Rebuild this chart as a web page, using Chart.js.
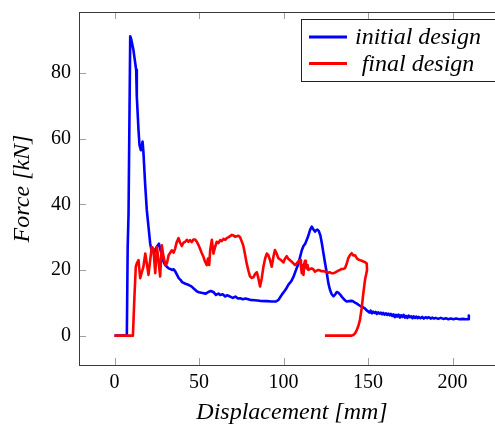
<!DOCTYPE html>
<html><head><meta charset="utf-8">
<script src="https://cdn.jsdelivr.net/npm/chart.js@4/dist/chart.umd.min.js"></script>
<style>
html,body{margin:0;padding:0;overflow:hidden;background:#fff;width:495px;height:427px}
#wrap{position:absolute;left:0;top:0;width:510px;height:427px}
</style>
</head><body>
<div id="wrap"><canvas id="c" width="510" height="427"></canvas></div>
<script>
const seriesNames = ['initial design', 'final design'];
const xTicks = [0, 50, 100, 150, 200];
const yTicks = [0, 20, 40, 60, 80];
const xTitle = 'Displacement [mm]';
const yTitle = 'Force [kN]';

const initialX = [0,7.3,7.8,8.3,9.3,9.8,11.2,12.8,13.2,14.2,14.8,15.6,16.6,17.1,18.1,19.1,20.1,21.1,22.1,23.1,24,25,26.3,27,28,29,30,31,32,33,34,35,36,37,38,39,40,42,44,45.5,47,48.7,50,52,54,55.5,57,58.7,60,61.5,62.5,64,65.5,66.5,68.4,70,71.5,73,74.3,76,77.5,80.2,83,86,90,93,95.5,97,97.9,99,100.5,101.9,103,104.5,105.8,107,108.5,109.8,110.8,111.8,112.8,113.7,114.7,115.7,116.7,117.5,118.6,119.3,120,120.8,121.8,122.7,123.6,124.6,125.6,126.5,127.5,128.5,129.5,130.5,131.5,132.4,133.5,134.5,135.4,136.5,137.3,138.5,140.3,141.3,142.5,143.3,144.3,145.2,146.5,147.5,148.5,149.2,150,
150.8,151.5,152.2,153,153.7,154.5,155.2,156,156.8,157.5,158.3,159,159.8,160.5,161.3,162,162.8,163.5,164.3,165,165.8,166.5,167.3,168,168.8,169.5,170.3,171,171.8,172.5,173.3,174,174.8,175.5,176.3,177,177.8,178.5,179.3,180,181,182,183,184,185,186,187,188,189,190,191.5,193,194.5,196,197.5,199,200.5,202,204,206,208,209.3,209.5,209.7,210];
const initialY = [0,0,27,37,91.2,90.5,87,81,72.8,62.6,58,56.5,59.1,56,46.4,38.3,33.2,28.1,25.5,26.3,25.6,27.1,28,26.5,24.5,22.5,21.5,21,20.5,20.3,20,20.2,19.5,18.5,17.5,17,16.3,15.8,15.4,15,14.3,13.5,13.2,13,12.8,13.3,13.6,13.2,12.4,12.8,12.4,12.6,11.9,12.3,11.9,11.5,11.9,11.3,11.4,11.1,11.3,10.9,10.8,10.6,10.5,10.4,10.4,10.9,11.6,12.5,13.5,14.6,15.6,16.5,17.8,19.5,21.5,24,26,27.3,28,29.1,30.5,32.2,33.2,32.5,31.7,32.1,32.3,31.9,30.5,28,25.1,22,19,16,13.9,12.6,12,12.5,13.3,13.1,12.5,11.8,11.3,10.7,10.4,10.5,10.6,10.4,10,9.8,9.4,9.1,8.7,8.5,8.1,7.7,7.4,
7.0,7.6,6.8,7.3,6.9,7.2,6.6,7.1,6.7,7.0,6.5,6.9,6.4,6.8,6.3,6.7,6.2,6.6,6.0,6.5,5.6,6.3,5.8,6.4,5.5,6.2,5.7,6.3,5.5,6.0,5.4,6.1,5.6,5.9,5.3,5.9,5.4,5.8,5.3,5.7,5.3,5.7,5.2,5.6,5.3,5.6,5.2,5.5,5.2,5.4,5.1,5.4,5.1,5.3,5.0,5.2,5.0,5.2,5.0,5.1,5.0,5.0,6.1,5.1,5.0];

const finalX = [0,10.9,11.8,12.6,13.2,14.2,15.2,16,17.1,18.2,19.1,20.1,21.1,22.1,23,24.1,25.1,26,27,28,29,30.2,31,32,33.9,35,35.9,36.8,37.9,38.8,39.8,40.8,41.8,42.8,43.7,44.7,45.7,46.7,47.7,48.7,49.7,50.6,51.6,52.6,53.6,54.6,55.3,56,56.6,57.6,58.5,59.5,60.5,61.5,62.5,63.5,64.5,65.5,66.4,67.5,68.4,69.4,70.4,71.3,72.3,73.3,74.3,75.2,76.2,77.2,78.2,79.2,80.2,81.2,82.2,83.2,84.2,85.1,86.1,87.1,88.1,89.1,90.1,91,92,93,94,94.9,95.9,96.9,98,99,99.9,100.9,101.9,102.8,103.8,104.8,105.8,106.8,107.8,108.8,109.8,110.3,110.8,111.3,111.8,112.3,112.7,113.2,113.7,114.2,114.7,115.7,116.7,117.6,118.6,119.6,120.5,121.5,122.5,123.5,124.5,125.5,126.5,127.5,128.5,129.4,130.4,131.4,132.4,133.4,134.4,135.4,136.4,137.3,138.3,139.3,140.3,141.3,142.3,143.3,144.2,145.2,146.2,147.2,148.2,149.2,149.4,148.2,147.2,146.2,145.2,144.3,143.3,142.3,141.3,140.3,124.5];
const finalY = [0,0,12,21,22,23,17.5,19,21,25,22,18.5,23,27,26.5,19,27,23,18,27.5,24,21.5,22,24.5,26,25.3,26.6,28.5,29.7,28.3,27.3,28.3,28.6,29.2,28.6,29.1,28.5,29.3,29.3,28.6,27.6,26.5,25.2,24,22.5,21.5,23.5,21.5,26,29.2,25,27,28.6,28.2,29.1,28.8,29.5,29.2,29.7,30,30.3,30.7,30.5,30.1,30.3,30.4,30,28.8,27.4,24.8,22,19.8,18,17.6,17.8,18.8,19.3,17.5,15,17.5,21,23.5,25,24.5,23,21,24,26.1,25,23.6,23.2,22.8,22.3,23.5,24.2,23.4,23,22.5,22,21.5,22,22.6,23,21,19,21.5,18.5,22,22.8,21,20.5,21.5,20,20.3,20.5,20.2,19.5,19.8,20,19.9,19.6,19.7,19.5,19.4,19.2,19.3,19,19,19.2,19.5,19.8,20,20.3,20.3,20.6,21.8,23.6,24.5,25.1,24.4,24.5,23.6,23.2,23,22.8,22.6,22.4,22,20,17,12.9,8.3,4.8,3,1.7,0.7,0.2,0,0];

const xRange = [-21, 231];
const yRange = [-8.95, 98.6];

const zip = (xs, ys) => xs.map((x, i) => ({x: x, y: ys[i]}));
const serif = "'Liberation Serif', 'Times New Roman', serif";
const colors = ['#0000ff', '#ff0000'];

const framePlugin = {
  id: 'frame',
  beforeDatasetsDraw(chart) {
    const {ctx, chartArea: a, scales} = chart;
    ctx.save();
    ctx.strokeStyle = '#a0a0a0';
    ctx.lineWidth = 1;
    const tl = 7;
    scales.x.ticks.forEach(t => {
      const px = Math.round(scales.x.getPixelForValue(t.value)) + 0.5;
      ctx.beginPath();
      ctx.moveTo(px, a.bottom); ctx.lineTo(px, a.bottom - tl);
      ctx.moveTo(px, a.top); ctx.lineTo(px, a.top + tl);
      ctx.stroke();
    });
    scales.y.ticks.forEach(t => {
      const py = Math.round(scales.y.getPixelForValue(t.value)) + 0.5;
      ctx.beginPath();
      ctx.moveTo(a.left, py); ctx.lineTo(a.left + tl, py);
      ctx.moveTo(a.right, py); ctx.lineTo(a.right - tl, py);
      ctx.stroke();
    });
    ctx.strokeStyle = '#3a3a3a';
    ctx.lineWidth = 1;
    ctx.strokeRect(Math.round(a.left) + 0.5, Math.round(a.top) + 0.5, Math.round(a.right - a.left), Math.round(a.bottom - a.top));
    ctx.restore();
  },
  afterDatasetsDraw(chart) {
    const {ctx} = chart;
    ctx.save();
    const bx = 301.5, by = 19.5, bw = 196, bh = 62;
    ctx.fillStyle = '#fff';
    ctx.fillRect(bx, by, bw, bh);
    ctx.strokeStyle = '#222';
    ctx.lineWidth = 1;
    ctx.strokeRect(bx, by, bw, bh);
    const rows = [37, 63.5];
    chart.data.datasets.forEach((ds, i) => {
      ctx.strokeStyle = ds.borderColor;
      ctx.lineWidth = 3;
      ctx.beginPath();
      ctx.moveTo(309, rows[i]); ctx.lineTo(347, rows[i]);
      ctx.stroke();
      ctx.fillStyle = '#000';
      ctx.font = "italic 24px " + serif;
      ctx.textAlign = 'center';
      ctx.textBaseline = 'middle';
      ctx.fillText(ds.label, 418, rows[i] + 1);
    });
    ctx.restore();
  }
};

new Chart(document.getElementById('c'), {
  type: 'scatter',
  data: {
    datasets: [
      {label: seriesNames[0], data: zip(initialX, initialY), showLine: true, borderColor: colors[0], backgroundColor: colors[0], borderWidth: 2.6, pointRadius: 0, tension: 0, fill: false, order: 1, borderJoinStyle: 'round'},
      {label: seriesNames[1], data: zip(finalX, finalY), showLine: true, borderColor: colors[1], backgroundColor: colors[1], borderWidth: 2.6, pointRadius: 0, tension: 0, fill: false, order: 0, borderJoinStyle: 'round'}
    ]
  },
  options: {
    responsive: false,
    animation: false,
    devicePixelRatio: 1,
    layout: {padding: {top: 12, right: 5, left: 0, bottom: 0}},
    plugins: {legend: {display: false}, tooltip: {enabled: false}},
    events: [],
    scales: {
      x: {
        type: 'linear', min: xRange[0], max: xRange[1],
        afterBuildTicks: s => { s.ticks = xTicks.map(v => ({value: v})); },
        afterFit: s => { s.height = 62; s.paddingLeft = 0; s.paddingRight = 0; },
        grid: {display: false, drawTicks: false},
        border: {display: false},
        ticks: {color: '#000', font: {family: serif, size: 20}, padding: 6, maxRotation: 0, autoSkip: false},
        title: {display: true, text: xTitle, color: '#000', font: {family: serif, size: 24, style: 'italic'}, padding: {top: 0, bottom: 0}}
      },
      y: {
        type: 'linear', min: yRange[0], max: yRange[1],
        afterBuildTicks: s => { s.ticks = yTicks.map(v => ({value: v})); },
        afterFit: s => { s.width = 79; s.paddingTop = 0; s.paddingBottom = 0; },
        grid: {display: false, drawTicks: false},
        border: {display: false},
        ticks: {color: '#000', font: {family: serif, size: 20}, padding: 8, autoSkip: false},
        title: {display: true, text: yTitle, color: '#000', font: {family: serif, size: 24, style: 'italic'}, padding: {top: 8, bottom: 0}}
      }
    }
  },
  plugins: [framePlugin]
});
</script>
</body></html>
